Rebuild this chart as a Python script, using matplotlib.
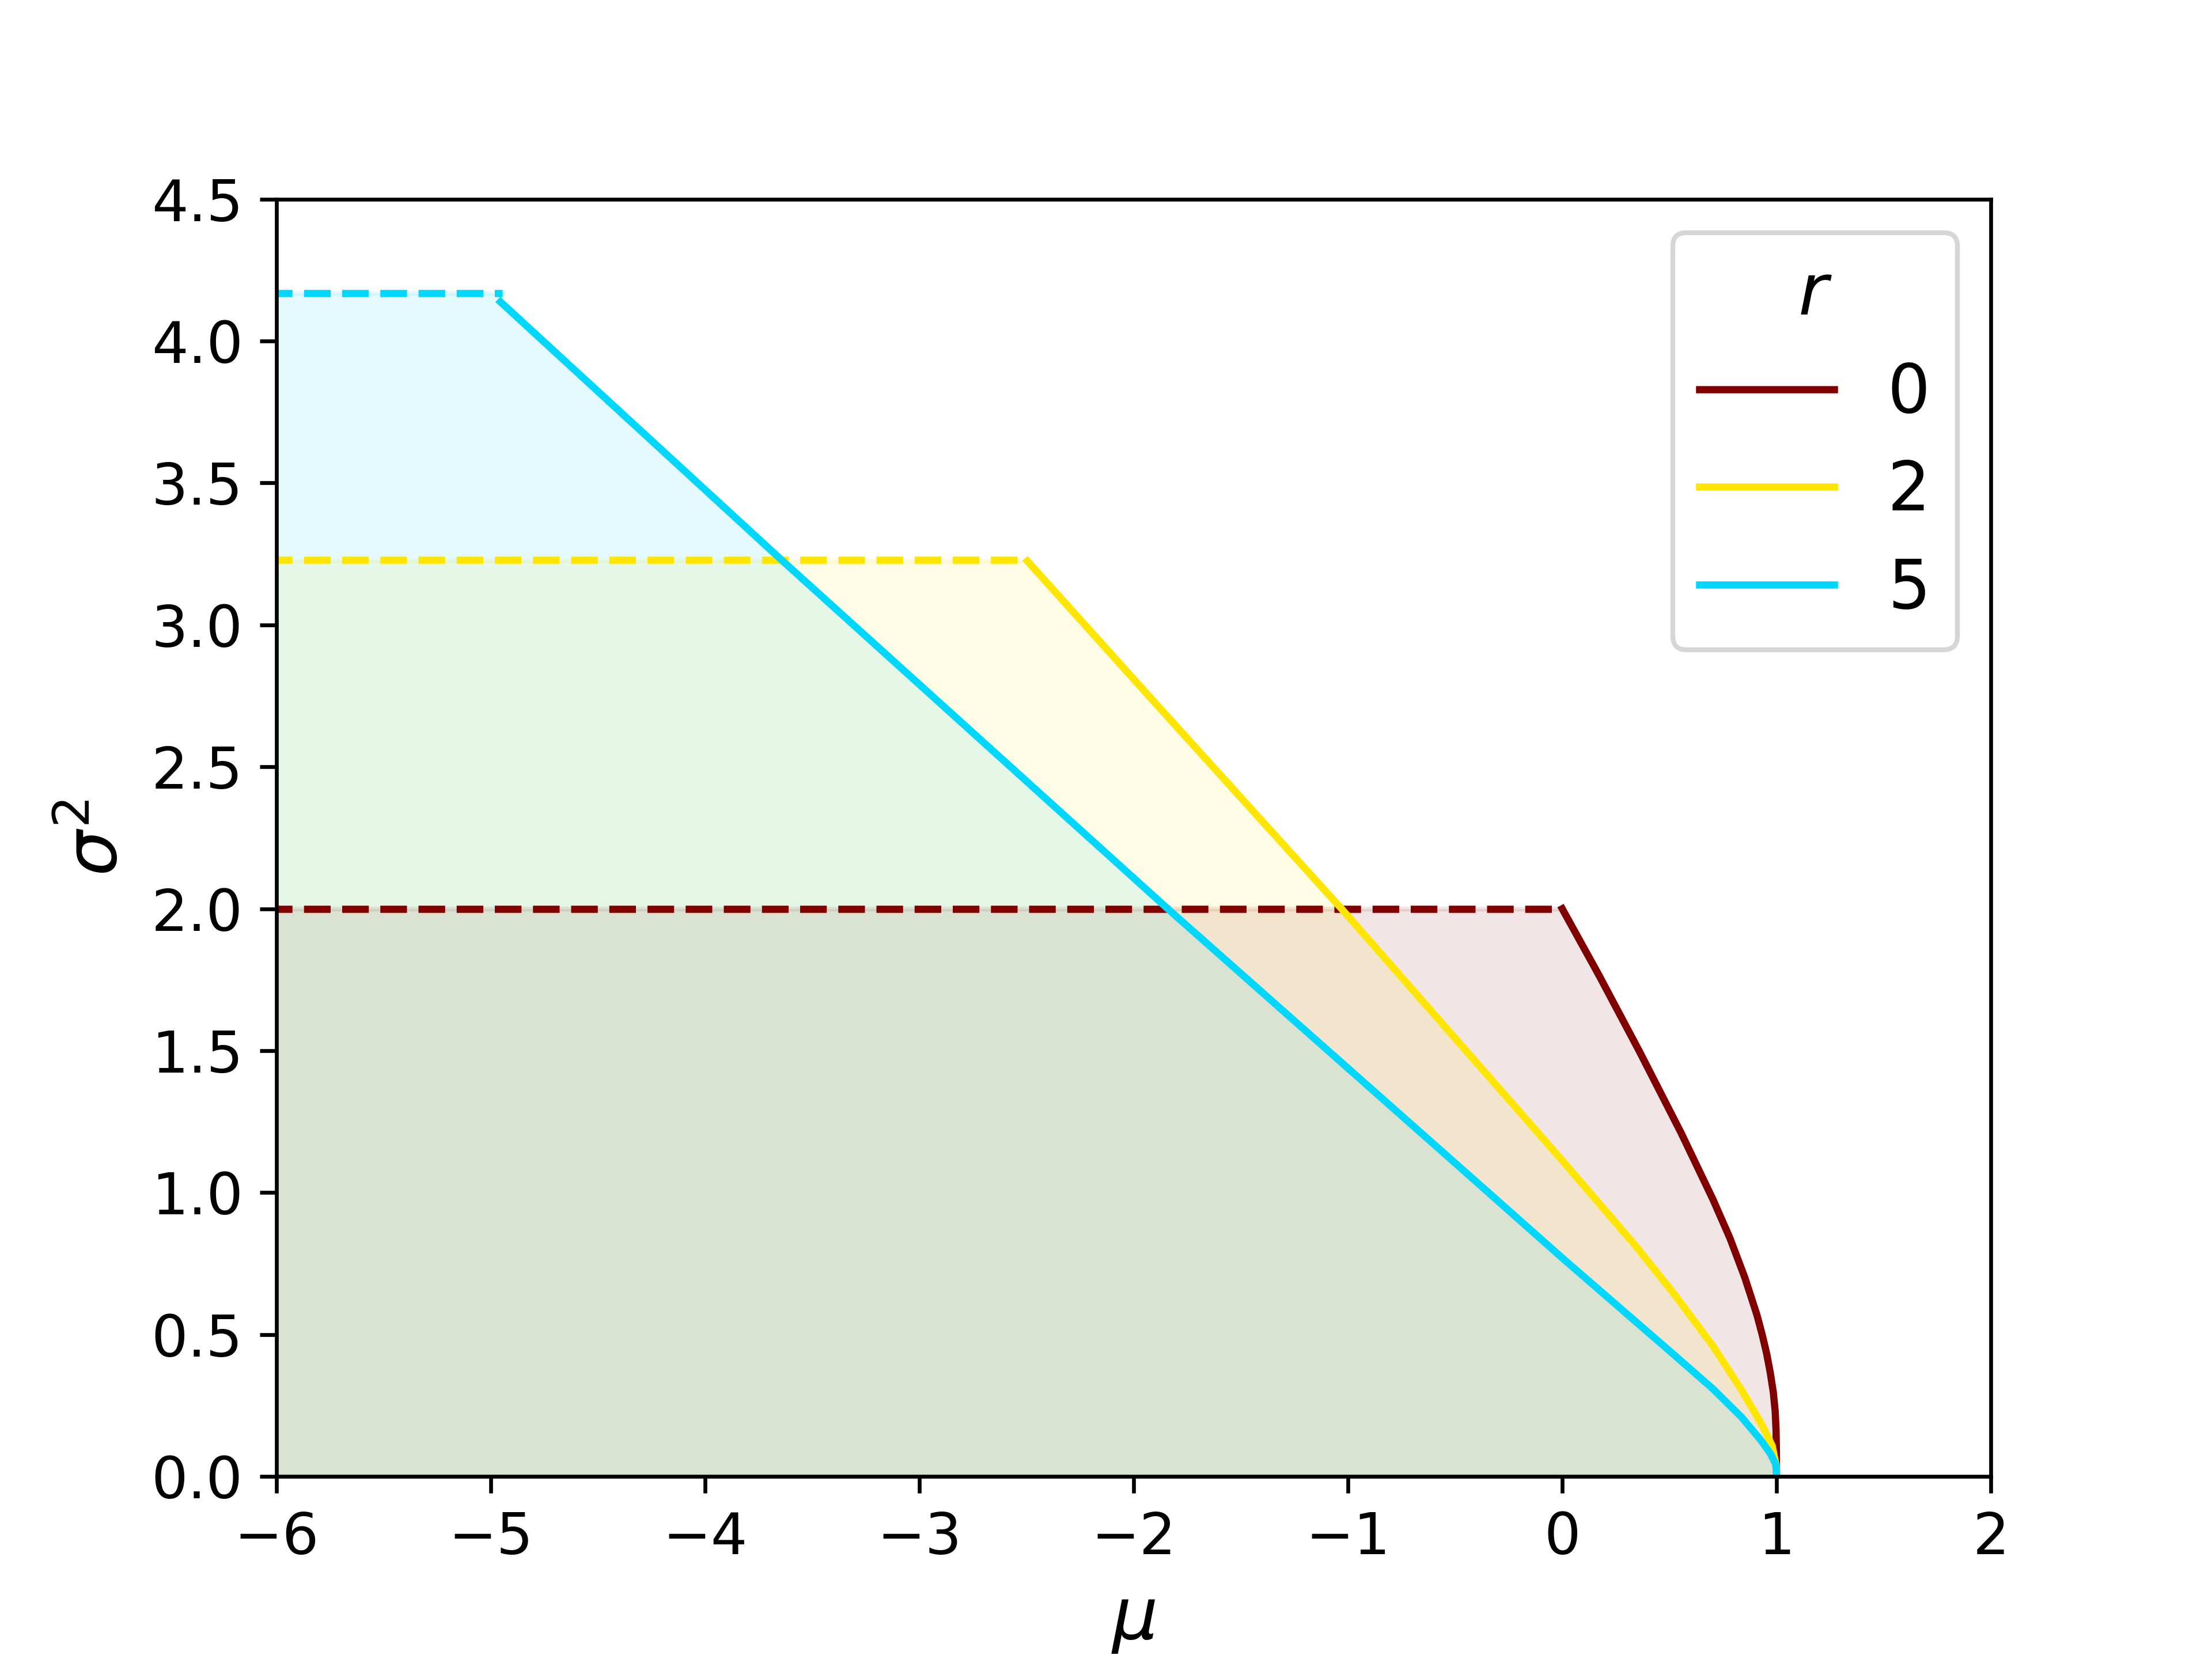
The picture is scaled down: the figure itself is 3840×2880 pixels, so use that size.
import matplotlib
matplotlib.use("Agg")
import matplotlib.pyplot as plt

# ---- data ----
r_labels = ["0", "2", "5"]
colors = ["#800000", "#FFE600", "#00D7FF"]

mu_left = -6.05                       # start of the dashed plateau
plateau_height = [2.0, 3.228, 4.169]  # dashed sigma^2 levels
plateau_end = [0.0, -2.496, -4.946]   # mu where the dashed part ends

mu_r0 = [0.0, 0.172, 0.362, 0.555, 0.704, 0.783, 0.817, 0.851, 0.880, 0.909, 0.933,
         0.954, 0.971, 0.985, 0.9938, 0.998, 0.9995, 1.0]
s2_r0 = [2.0, 1.765, 1.495, 1.210, 0.975, 0.839, 0.771, 0.703, 0.636, 0.568, 0.500,
         0.433, 0.365, 0.297, 0.230, 0.162, 0.090, 0.0]

mu_r2 = [-2.496, -1.92, -1.03, -0.147, 0.0, 0.344, 0.523, 0.703, 0.837, 0.927, 0.98, 0.998, 1.0]
s2_r2 = [3.225, 2.742, 2.0, 1.240, 1.113, 0.811, 0.642, 0.460, 0.304, 0.189, 0.108, 0.040, 0.0]

mu_r5 = [-4.955, -3.648, -2.586, -1.841, -0.355, 0.0, 0.344, 0.523, 0.703, 0.837, 0.927,
         0.971, 0.994, 0.999, 1.0]
s2_r5 = [4.138, 3.232, 2.508, 2.0, 1.0075, 0.770, 0.545, 0.428, 0.309, 0.209, 0.128,
         0.081, 0.047, 0.027, 0.0]

solid_mu = [mu_r0, mu_r2, mu_r5]
solid_s2 = [s2_r0, s2_r2, s2_r5]

fig, ax = plt.subplots(figsize=(6.4, 4.8), dpi=600)

for lab, c, h, xe, mus, ss in zip(r_labels, colors, plateau_height, plateau_end, solid_mu, solid_s2):
    ax.plot([mu_left, xe], [h, h], linestyle="--", color=c, lw=1.5)
    ax.plot(mus, ss, color=c, lw=1.5, label=lab)
    ax.fill_between([mu_left, xe] + mus, [h, h] + ss, 0, color=c, alpha=0.1)

ax.set_xlim(-6, 2)
ax.set_ylim(0, 4.5)
ax.tick_params(labelsize=12)
ax.set_xlabel(r"$\mu$", fontsize=15)
ax.set_ylabel(r"$\sigma^2$", fontsize=15)
leg = ax.legend(title=r"$r$", fontsize=14, title_fontsize=15, labelspacing=0.47,
                loc="upper right")

fig.savefig("out.png", dpi=600)
